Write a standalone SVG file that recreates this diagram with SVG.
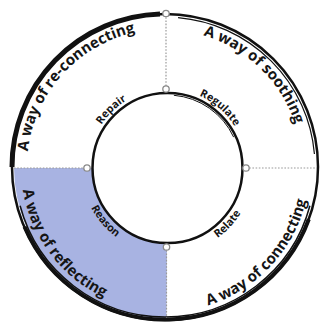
<svg xmlns="http://www.w3.org/2000/svg" width="321" height="329" viewBox="0 0 321 329">
<style>
.ring{fill:none;stroke:#111;}
.dot{fill:none;stroke:#9a9a9a;stroke-width:1.2;stroke-dasharray:1.6 1.6;}
.knob{fill:#fff;stroke:#8a8a8a;stroke-width:1.3;}
.outer{font-family:"Open Sans",Lato,sans-serif;font-weight:700;font-size:15px;fill:#151515;}
.inner{font-family:"Open Sans",Lato,sans-serif;font-weight:700;font-size:10.8px;fill:#151515;}
</style>
<defs>
<path id="pReconnect" d="M 33.75 209.64 A 138 138 0 0 1 193.69 32.02"/>
<path id="pSoothe" d="M 127.24 35.30 A 137 137 0 0 1 297.93 200.14"/>
<path id="pConnect" d="M 132.38 308.29 A 145 145 0 0 0 303.66 124.60"/>
<path id="pReflect" d="M 32.45 110.74 A 144 144 0 0 0 182.55 309.92"/>
<path id="pRepair" d="M 90.85 187.11 A 79 79 0 0 1 189.27 92.06"/>
<path id="pRegulate" d="M 141.78 93.31 A 79 79 0 0 1 245.05 183.07"/>
<path id="pRelate" d="M 148.15 251.80 A 86 86 0 0 0 249.74 142.85"/>
<path id="pReason" d="M 86.43 139.29 A 86 86 0 0 0 183.17 252.56"/>
</defs>
<rect width="321" height="329" fill="#fff"/>
<g id="reflecting-fill">
<path d="M 14 168 L 92.5 168 A 75 75 0 0 0 167 243 L 166.5 318 A 151 151 0 0 1 14 168 Z" fill="#a8b3e2"/>
</g>
<g id="rings">
<circle class="ring" cx="165" cy="167" r="153" stroke-width="2.5"/>
<path class="ring" d="M 12 167 A 153 153 0 0 1 160 14" stroke-width="5"/>
<path class="ring" d="M 178.07 17.57 A 150 150 0 0 1 314.43 153.93" stroke-width="1.2" stroke="#333"/>
<path class="ring" d="M 308.8 219.3 A 153 153 0 0 1 24.5 226.8" stroke-width="4"/>
<path class="ring" d="M 309.9 205.8 A 150 150 0 0 1 20.1 205.8" stroke-width="1.5"/>
<circle class="ring" cx="167.5" cy="168" r="75" stroke-width="2.5"/>
<path class="ring" d="M 173.86 95.28 A 73 73 0 0 1 233.66 137.15" stroke-width="1" stroke="#444"/>
</g>
<g id="connectors">
<line class="dot" x1="166" y1="14" x2="166" y2="89"/>
<line class="dot" x1="246" y1="168" x2="317" y2="168"/>
<line class="dot" x1="166.5" y1="247" x2="166.5" y2="318"/>
<line class="dot" x1="14" y1="168" x2="87" y2="168"/>
</g>
<g id="knobs">
<circle class="knob" cx="166" cy="13.5" r="3.2"/>
<circle class="knob" cx="166" cy="89" r="3.2"/>
<circle class="knob" cx="246" cy="168" r="3.2"/>
<circle class="knob" cx="166.5" cy="247" r="3.2"/>
<circle class="knob" cx="87" cy="168" r="3.2"/>
</g>
<g id="node-reconnecting"><text class="outer"><textPath href="#pReconnect" startOffset="50%" text-anchor="middle">A way of re-connecting</textPath></text></g>
<g id="node-soothing"><text class="outer"><textPath href="#pSoothe" startOffset="50%" text-anchor="middle">A way of soothing</textPath></text></g>
<g id="node-connecting"><text class="outer"><textPath href="#pConnect" startOffset="50%" text-anchor="middle">A way of connecting</textPath></text></g>
<g id="node-reflecting"><text class="outer"><textPath href="#pReflect" startOffset="50%" text-anchor="middle">A way of reflecting</textPath></text></g>
<g id="node-repair"><text class="inner"><textPath href="#pRepair" startOffset="50%" text-anchor="middle">Repair</textPath></text></g>
<g id="node-regulate"><text class="inner"><textPath href="#pRegulate" startOffset="50%" text-anchor="middle">Regulate</textPath></text></g>
<g id="node-relate"><text class="inner"><textPath href="#pRelate" startOffset="50%" text-anchor="middle">Relate</textPath></text></g>
<g id="node-reason"><text class="inner"><textPath href="#pReason" startOffset="50%" text-anchor="middle">Reason</textPath></text></g>
</svg>
